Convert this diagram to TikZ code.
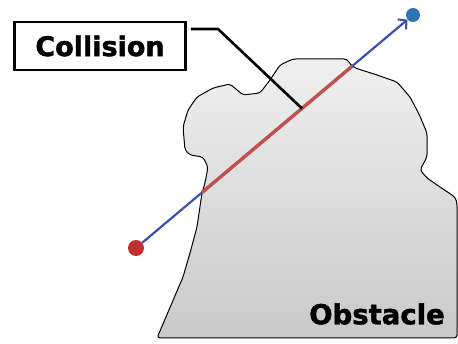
\documentclass[tikz,border=0pt]{standalone}
\usepackage{fontspec}
\setmainfont{DejaVu Sans}
\newfontfamily\heavyfont[FakeBold=1.6]{DejaVu Sans Bold}
\usetikzlibrary{positioning,arrows.meta,calc}
\definecolor{pathblue}{RGB}{58,80,176}
\definecolor{hitred}{RGB}{192,80,77}
\definecolor{goalblue}{RGB}{46,117,182}
\definecolor{startred}{RGB}{192,48,48}
\tikzset{
  patharrow/.style={-{Straight Barb[length=6pt,width=13pt,line width=2pt]}, line width=2.2pt, pathblue},
  hitline/.style={line width=3.4pt, hitred},
  leader/.style={line width=2.6pt, black},
  startdot/.style={circle, fill=startred, minimum size=16pt, inner sep=0pt},
  goaldot/.style={circle, fill=goalblue, minimum size=14pt, inner sep=0pt},
  labelbox/.style={draw, line width=2.6pt, fill=white, minimum width=171pt, minimum height=48pt, font=\heavyfont\fontsize{27}{30}\selectfont},
  bodylabel/.style={font=\heavyfont\fontsize{27.5}{30}\selectfont, inner sep=0pt},
  obstaclebody/.style={draw, line width=1pt, rounded corners=3pt, top color=gray!12, bottom color=gray!42}
}
\begin{document}
\begin{tikzpicture}[x=1pt, y=-1pt]
  \useasboundingbox (0,0) rectangle (458,344);
  % obstacle outline
  \draw[obstaclebody] (157,338) -- (183,277) -- (190,253) -- (197,227) -- (202,193)
    -- (205,183) -- (208,167) -- (203,157) -- (190,155) -- (185,150) -- (183,127)
    -- (188,110) -- (197,97) -- (213,88) -- (230,84) -- (243,95) -- (260,93)
    -- (270,80) -- (280,65) -- (293,59) -- (347,59) -- (350,64) -- (355,68)
    -- (377,75) -- (397,82) -- (410,97) -- (419,114) -- (427,133) -- (427,157)
    -- (420,170) -- (427,178) -- (440,187) -- (455,197) -- (457,203) -- (457,338) -- cycle;
  \node[bodylabel] (obst) at (377,314) {Obstacle};
  % path through the obstacle
  \node[startdot] (start) at (136,248) {};
  \node[goaldot] (goal) at (413,15) {};
  \draw[patharrow] (start) -- (goal);
  \coordinate (entry) at ($(start)!0.238!(goal)$);
  \coordinate (exit) at ($(start)!0.78!(goal)$);
  \coordinate (hit) at ($(start)!0.599!(goal)$);
  \draw[hitline] (entry) -- (exit);
  % label
  \node[labelbox] (coll) at (100,46) {Collision};
  \coordinate (bend) at (218,29);
  \draw[leader] (coll.east |- bend) ++(4,0) -- (bend) -- (hit);
\end{tikzpicture}
\end{document}
